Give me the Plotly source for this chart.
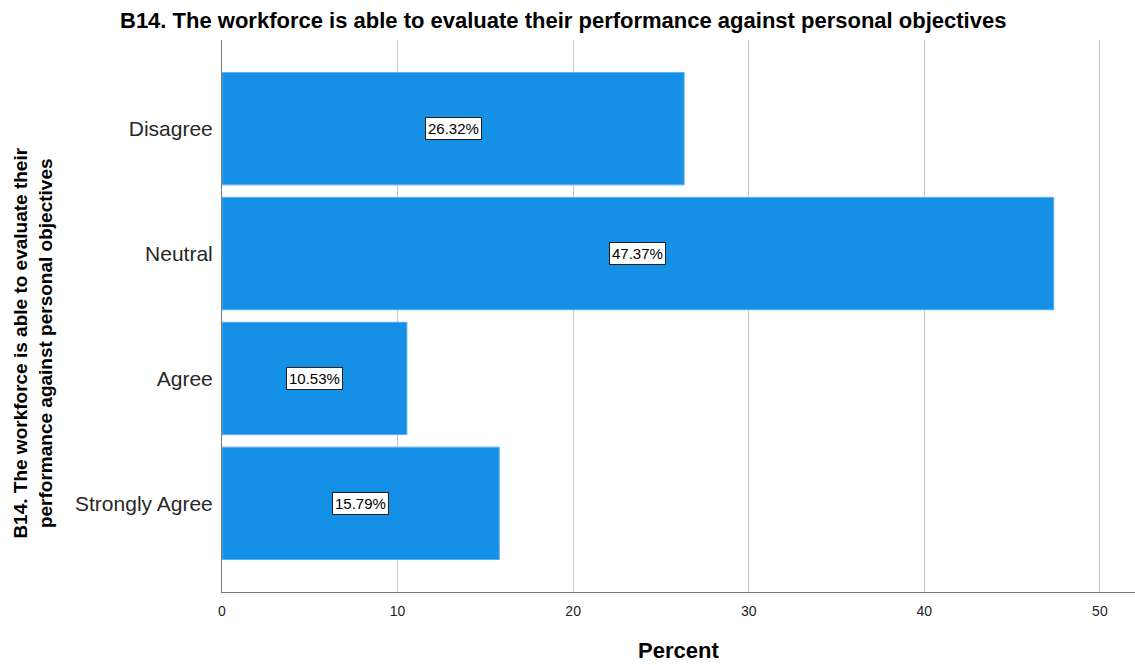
import plotly.graph_objects as go

# Response categories (top to bottom) and their percentages
categories = ["Disagree", "Neutral", "Agree", "Strongly Agree"]
percents = [26.32, 47.37, 10.53, 15.79]
x_ticks = [0, 10, 20, 30, 40, 50]

title_text = "B14. The workforce is able to evaluate their performance against personal objectives"
y_title = "B14. The workforce is able to evaluate their<br>performance against personal objectives"
x_title = "Percent"

FONT = "Liberation Sans, Arial, sans-serif"
BAR = "rgb(20,144,230)"

fig = go.Figure()
fig.add_trace(go.Bar(
    x=percents,
    y=categories,
    orientation="h",
    marker=dict(color=BAR, line=dict(color="rgb(90,175,235)", width=1)),
    hoverinfo="skip",
))

# Value labels in white boxes at the middle of each bar
for cat, val in zip(categories, percents):
    fig.add_annotation(
        x=val / 2, y=cat, xref="x", yref="y",
        text=f"{val:.2f}%", showarrow=False,
        font=dict(family=FONT, size=15, color="black"),
        bgcolor="white", bordercolor="rgb(30,30,30)", borderwidth=1, borderpad=2,
    )

fig.add_annotation(
    x=0.3735, y=1, xref="paper", yref="paper", yanchor="bottom", yshift=5,
    xanchor="center",
    text=f"<b>{title_text}</b>", showarrow=False,
    font=dict(family=FONT, size=22, color="black"),
)
fig.add_annotation(
    x=0.5, y=0, xref="paper", yref="paper", yanchor="middle",
    xanchor="center", yshift=-58,
    text=f"<b>{x_title}</b>", showarrow=False,
    font=dict(family=FONT, size=22, color="black"),
)
fig.add_annotation(
    x=0, y=0.45, xref="paper", yref="paper", xanchor="center", yanchor="middle",
    xshift=-189, textangle=-90,
    text=f"<b>{y_title}</b>", showarrow=False,
    font=dict(family=FONT, size=19, color="black"),
)

fig.update_layout(
    width=1135, height=665,
    margin=dict(l=222, r=0, t=40, b=73),
    paper_bgcolor="white", plot_bgcolor="white",
    bargap=0.1,
    showlegend=False,
    font=dict(family=FONT, color="black"),
)
fig.update_xaxes(
    range=[0, 52.0],
    tickvals=x_ticks,
    showgrid=True, gridcolor="rgb(200,200,200)", gridwidth=1,
    showline=True, linecolor="rgb(120,120,120)", linewidth=1,
    zeroline=False, ticks="",
    ticklabelstandoff=6,
    tickfont=dict(family=FONT, size=14, color="rgb(30,30,30)"),
)
fig.update_yaxes(
    type="category",
    categoryorder="array", categoryarray=categories,
    range=[3.71, -0.71],
    showgrid=False,
    showline=True, linecolor="rgb(120,120,120)", linewidth=1,
    zeroline=False, ticks="",
    ticklabelstandoff=4,
    tickfont=dict(family=FONT, size=21, color="rgb(40,40,40)"),
)

fig.write_html("out.html")
